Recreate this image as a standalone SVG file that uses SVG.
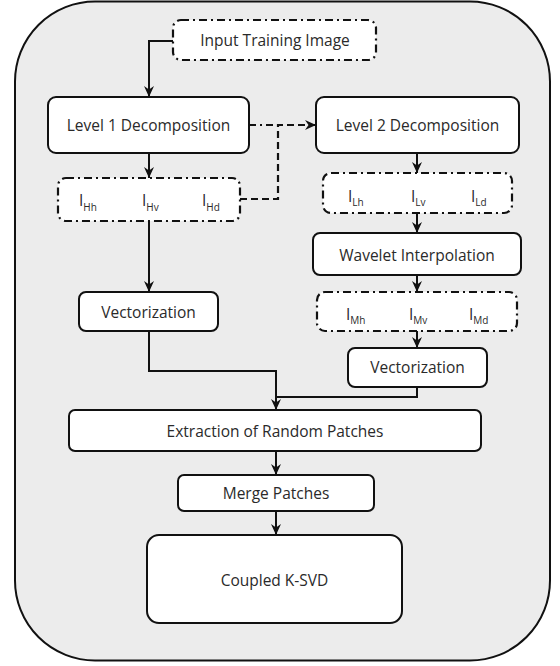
<svg xmlns="http://www.w3.org/2000/svg" width="560" height="666" viewBox="0 0 560 666">
<style>
.bg{fill:#ececec;stroke:#111;stroke-width:2}
.box{fill:#fff;stroke:#111;stroke-width:2}
.dbox{fill:#fff;stroke:#111;stroke-width:2.2;stroke-dasharray:8 4 2 4}
.lbl{font-family:"Open Sans","Liberation Sans",sans-serif;font-size:15.5px;fill:#2a2a2a;text-anchor:middle}
.sym{font-family:"Open Sans","Liberation Sans",sans-serif;font-size:15.5px;fill:#2a2a2a}
.sub{font-size:10px}
.ln{fill:none;stroke:#111;stroke-width:2}
.dash{fill:none;stroke:#111;stroke-width:2.2;stroke-dasharray:7 4}
.dashdot{fill:none;stroke:#111;stroke-width:2.2;stroke-dasharray:7 4 2 4}
</style>
<defs>
<marker id="arr" markerUnits="userSpaceOnUse" markerWidth="12" markerHeight="11" refX="11" refY="5" orient="auto">
<path d="M0,0 L11,5 L0,10 L3.5,5 z" fill="#111"/>
</marker>
</defs>
<rect class="bg" x="15" y="1.5" width="535" height="659" rx="80" ry="80"/>
<g id="connectors">
<path class="ln" d="M173,41 H149 V97" marker-end="url(#arr)"/>
<path class="ln" d="M149,153 V178" marker-end="url(#arr)"/>
<path class="dashdot" d="M249,125 H278"/>
<path class="dash" d="M240,199 H278 V125 H316" marker-end="url(#arr)"/>
<path class="ln" d="M417,153 V173" marker-end="url(#arr)"/>
<path class="ln" d="M417,213 V233" marker-end="url(#arr)"/>
<path class="ln" d="M417,275 V292" marker-end="url(#arr)"/>
<path class="ln" d="M417,331 V348" marker-end="url(#arr)"/>
<path class="ln" d="M149,221 V292" marker-end="url(#arr)"/>
<path class="ln" d="M149,331 V371 H276 V410" marker-end="url(#arr)"/>
<path class="ln" d="M417,387 V397 H276"/>
<path class="ln" d="M276,451 V475" marker-end="url(#arr)"/>
<path class="ln" d="M276,511 V535" marker-end="url(#arr)"/>
</g>
<g id="input">
<rect class="dbox" x="173" y="20" width="203" height="40" rx="8"/>
<text class="lbl" x="275" y="46">Input Training Image</text>
</g>
<g id="level1">
<rect class="box" x="48" y="97" width="201" height="56" rx="8"/>
<text class="lbl" x="148.5" y="131">Level 1 Decomposition</text>
</g>
<g id="level2">
<rect class="box" x="316" y="97" width="203" height="56" rx="8"/>
<text class="lbl" x="417.5" y="131">Level 2 Decomposition</text>
</g>
<g id="ih">
<rect class="dbox" x="58" y="178" width="182" height="43" rx="8"/>
<text class="sym" x="79" y="206">I<tspan class="sub" dy="5">Hh</tspan></text>
<text class="sym" x="142" y="206">I<tspan class="sub" dy="5">Hv</tspan></text>
<text class="sym" x="202" y="206">I<tspan class="sub" dy="5">Hd</tspan></text>
</g>
<g id="il">
<rect class="dbox" x="323" y="173" width="189" height="40" rx="8"/>
<text class="sym" x="348" y="202">I<tspan class="sub" dy="4">Lh</tspan></text>
<text class="sym" x="411" y="202">I<tspan class="sub" dy="4">Lv</tspan></text>
<text class="sym" x="471" y="202">I<tspan class="sub" dy="4">Ld</tspan></text>
</g>
<g id="wavelet">
<rect class="box" x="313" y="233" width="208" height="42" rx="7"/>
<text class="lbl" x="417" y="261">Wavelet Interpolation</text>
</g>
<g id="im">
<rect class="dbox" x="317" y="292" width="200" height="39" rx="8"/>
<text class="sym" x="346" y="320">I<tspan class="sub" dy="4">Mh</tspan></text>
<text class="sym" x="409" y="320">I<tspan class="sub" dy="4">Mv</tspan></text>
<text class="sym" x="469" y="320">I<tspan class="sub" dy="4">Md</tspan></text>
</g>
<g id="vect1">
<rect class="box" x="79" y="292" width="139" height="39" rx="7"/>
<text class="lbl" x="148.5" y="318">Vectorization</text>
</g>
<g id="vect2">
<rect class="box" x="348" y="348" width="139" height="39" rx="7"/>
<text class="lbl" x="417.5" y="373">Vectorization</text>
</g>
<g id="extraction">
<rect class="box" x="69" y="410" width="412" height="41" rx="6"/>
<text class="lbl" x="275" y="437">Extraction of Random Patches</text>
</g>
<g id="merge">
<rect class="box" x="178" y="475" width="196" height="36" rx="6"/>
<text class="lbl" x="276" y="499">Merge Patches</text>
</g>
<g id="ksvd">
<rect class="box" x="147" y="535" width="255" height="88" rx="12"/>
<text class="lbl" x="274.5" y="586">Coupled K-SVD</text>
</g>
</svg>
